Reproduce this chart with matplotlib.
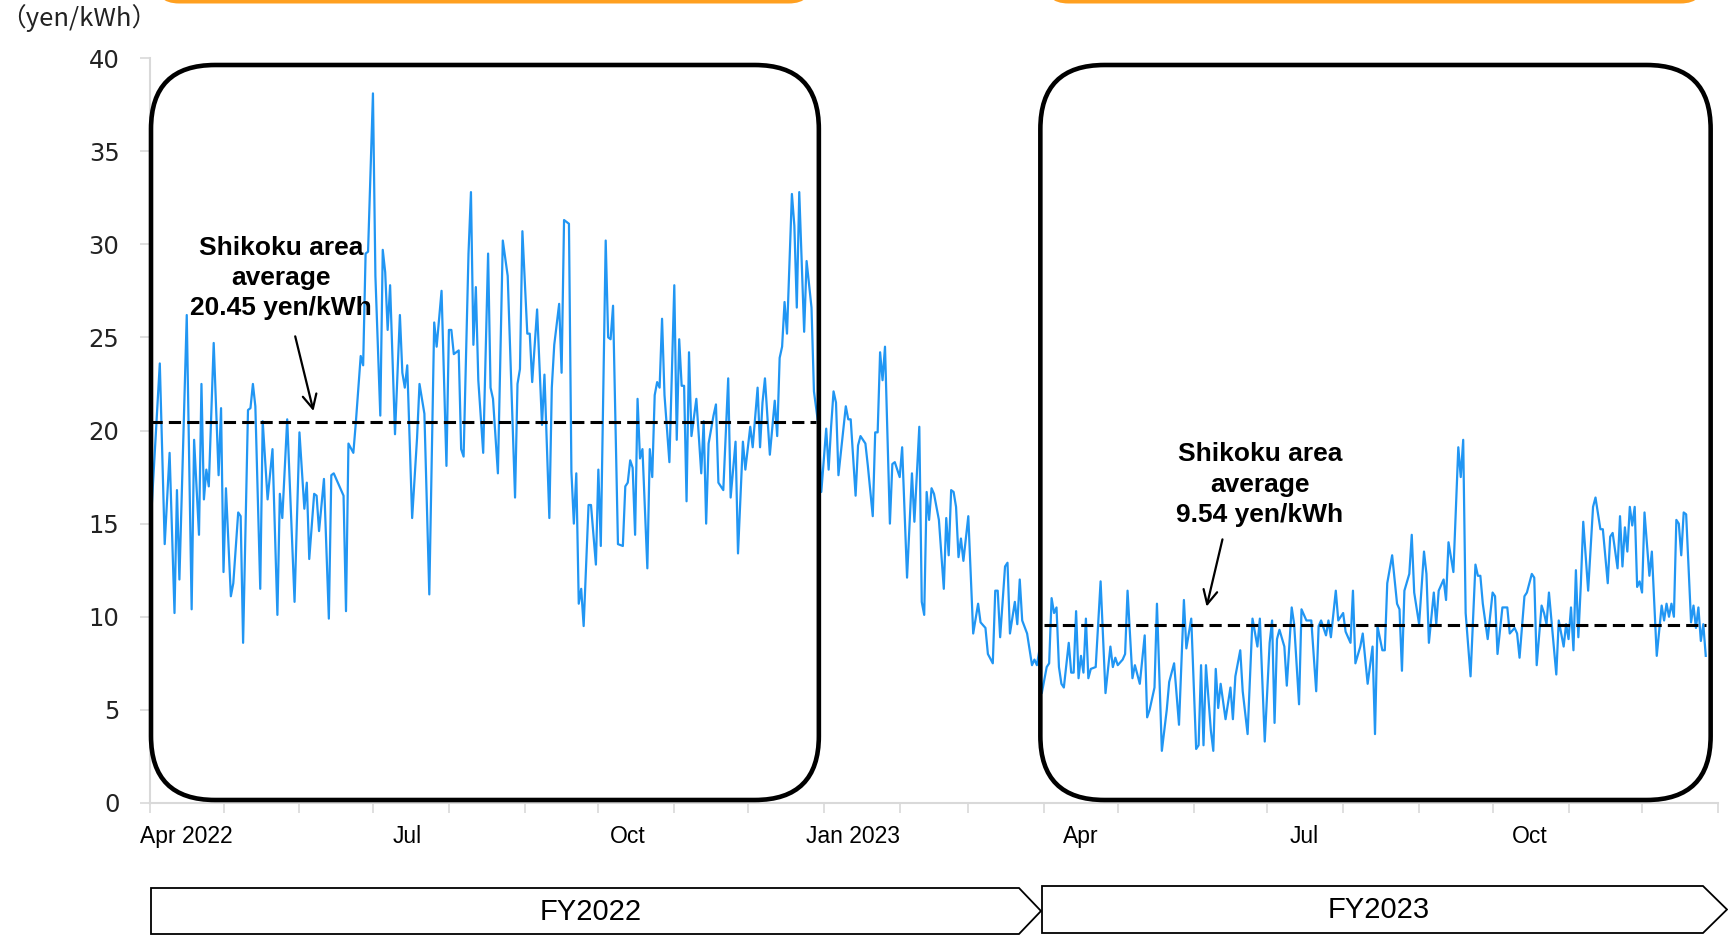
import matplotlib
matplotlib.use("Agg")
import matplotlib.pyplot as plt
import matplotlib.dates as mdates
from matplotlib.patches import FancyBboxPatch, Polygon
from matplotlib.transforms import IdentityTransform
import pandas as pd

# Daily spot price, Shikoku area (day offset from 2022-04-01, yen/kWh)
start = pd.Timestamp("2022-04-01")
day_offset = [
    0, 4, 6, 8, 10, 11, 12, 15, 17, 18, 20, 21, 22, 23, 24, 26, 28, 29, 30, 31,
    33, 34, 36, 37, 38, 40, 41, 42, 43, 45, 46, 48, 50, 52, 53, 54, 56, 59, 61, 63,
    64, 65, 67, 68, 69, 71, 73, 74, 75, 79, 80, 81, 83, 84, 86, 87, 88, 89, 91, 92,
    94, 95, 96, 97, 98, 100, 102, 103, 104, 105, 107, 109, 110, 112, 114, 116, 117, 119, 121, 122,
    123, 124, 126, 127, 128, 130, 131, 132, 133, 134, 136, 138, 139, 140, 142, 144, 146, 149, 150, 151,
    152, 154, 155, 156, 158, 160, 161, 163, 164, 165, 167, 168, 169, 171, 172, 173, 174, 175, 176, 177,
    179, 180, 182, 183, 184, 186, 187, 188, 189, 191, 193, 194, 195, 196, 197, 198, 199, 200, 201, 203,
    204, 205, 206, 207, 208, 209, 210, 212, 214, 215, 216, 217, 218, 219, 220, 221, 223, 225, 226, 227,
    228, 230, 231, 232, 233, 234, 236, 237, 239, 240, 242, 243, 245, 246, 248, 249, 250, 251, 253, 255,
    256, 257, 258, 259, 260, 262, 263, 264, 265, 267, 268, 270, 271, 273, 274, 276, 277, 278, 279, 280,
    281, 283, 284, 285, 286, 288, 289, 290, 292, 293, 295, 296, 297, 298, 299, 300, 302, 303, 304, 306,
    307, 309, 311, 312, 314, 315, 316, 317, 318, 319, 320, 322, 324, 325, 326, 327, 328, 329, 330, 331,
    332, 334, 336, 338, 339, 341, 342, 344, 345, 346, 347, 349, 350, 351, 353, 354, 355, 356, 358, 360,
    361, 362, 363, 364, 366, 367, 368, 369, 370, 371, 372, 373, 375, 376, 377, 378, 379, 380, 381, 382,
    383, 384, 386, 388, 390, 392, 393, 394, 395, 397, 398, 399, 401, 402, 404, 406, 407, 408, 410, 411,
    413, 415, 416, 418, 420, 422, 423, 425, 427, 428, 429, 430, 431, 433, 434, 435, 436, 437, 439, 441,
    442, 443, 445, 446, 448, 450, 452, 453, 455, 457, 458, 459, 460, 461, 463, 464, 466, 467, 469, 470,
    472, 474, 476, 477, 478, 480, 481, 482, 484, 485, 487, 488, 490, 491, 492, 494, 495, 497, 499, 500,
    501, 503, 504, 505, 507, 509, 510, 511, 512, 514, 515, 516, 518, 520, 521, 522, 524, 525, 526, 528,
    529, 530, 532, 534, 535, 536, 537, 539, 541, 542, 543, 544, 546, 548, 549, 550, 552, 554, 555, 557,
    558, 559, 561, 562, 564, 565, 566, 568, 569, 570, 571, 574, 575, 577, 578, 579, 580, 581, 582, 583,
    584, 585, 587, 589, 590, 592, 593, 595, 596, 597, 599, 600, 601, 602, 603, 604, 605, 606, 607, 608,
    609, 610, 612, 613, 615, 617, 618, 619, 620, 621, 622, 623, 624, 625, 626, 627, 629, 630, 631, 632,
    633, 634, 635,
]
price = [
    14.3, 23.6, 13.9, 18.8, 10.2, 16.8, 12.0, 26.2, 10.4, 19.5, 14.4, 22.5, 16.3, 17.9, 17.0, 24.7, 17.6, 21.2, 12.4, 16.9,
    11.1, 11.8, 15.6, 15.4, 8.6, 21.1, 21.2, 22.5, 21.3, 11.5, 20.5, 16.3, 19.0, 10.1, 16.6, 15.3, 20.6, 10.8, 19.9, 15.8,
    17.2, 13.1, 16.6, 16.5, 14.6, 17.4, 9.9, 17.6, 17.7, 16.5, 10.3, 19.3, 18.8, 20.4, 24.0, 23.5, 29.5, 29.6, 38.1, 28.3,
    20.8, 29.7, 28.5, 25.4, 27.8, 19.8, 26.2, 23.1, 22.3, 23.5, 15.3, 19.6, 22.5, 20.9, 11.2, 25.8, 24.5, 27.5, 18.1, 25.4,
    25.4, 24.1, 24.3, 19.0, 18.6, 29.5, 32.8, 24.6, 27.7, 22.7, 18.8, 29.5, 22.3, 21.7, 17.7, 30.2, 28.3, 16.4, 22.5, 23.3,
    30.7, 25.2, 25.2, 22.6, 26.5, 20.3, 23.0, 15.3, 22.3, 24.6, 26.8, 23.1, 31.3, 31.1, 17.8, 15.0, 17.7, 10.7, 11.5, 9.5,
    16.0, 16.0, 12.8, 17.9, 13.8, 30.2, 25.0, 24.9, 26.7, 13.9, 13.8, 17.0, 17.2, 18.4, 18.0, 14.4, 21.7, 18.5, 19.0, 12.6,
    19.0, 17.5, 21.9, 22.6, 22.3, 26.0, 21.9, 18.3, 27.8, 19.5, 24.9, 22.4, 22.4, 16.2, 24.2, 19.7, 21.7, 17.7, 20.5, 15.0,
    19.3, 20.8, 21.4, 17.2, 17.0, 16.8, 22.8, 16.4, 19.4, 13.4, 19.4, 17.9, 20.2, 19.1, 22.3, 19.1, 21.5, 22.8, 18.7, 21.6,
    19.7, 23.9, 24.5, 26.9, 25.2, 32.7, 31.0, 26.6, 32.8, 25.3, 29.1, 26.6, 22.1, 20.1, 16.7, 20.1, 17.9, 20.2, 22.1, 21.5,
    17.6, 20.1, 21.3, 20.6, 20.6, 16.5, 19.2, 19.7, 19.3, 18.1, 15.4, 19.9, 19.9, 24.2, 22.7, 24.5, 15.0, 18.2, 18.3, 17.5,
    19.1, 12.1, 17.7, 15.1, 20.2, 10.8, 10.1, 16.7, 15.2, 16.9, 16.6, 15.2, 11.5, 15.3, 13.3, 16.8, 16.7, 15.9, 13.2, 14.2,
    13.0, 15.4, 9.1, 10.7, 9.7, 9.4, 8.0, 7.5, 11.4, 11.4, 8.9, 12.7, 12.9, 9.1, 10.8, 9.6, 12.0, 9.8, 9.1, 7.4,
    7.7, 7.4, 8.2, 5.9, 7.3, 7.5, 11.0, 10.2, 10.5, 7.3, 6.4, 6.2, 8.6, 7.0, 7.0, 10.3, 6.7, 7.9, 7.0, 9.9,
    6.7, 7.2, 7.3, 11.9, 5.9, 8.4, 7.3, 7.8, 7.4, 7.7, 8.0, 11.4, 6.7, 7.4, 6.4, 9.0, 4.6, 5.0, 6.2, 10.7,
    2.8, 5.0, 6.5, 7.5, 4.2, 10.9, 8.3, 9.9, 2.9, 3.1, 7.4, 3.1, 7.4, 3.9, 2.8, 7.2, 5.1, 6.4, 4.5, 6.2,
    4.5, 6.8, 8.2, 6.0, 3.7, 9.9, 8.4, 9.9, 3.3, 8.6, 9.8, 4.3, 8.8, 9.3, 8.4, 6.3, 10.5, 9.6, 5.3, 10.4,
    9.8, 9.8, 6.0, 9.5, 9.8, 9.0, 9.8, 8.9, 11.4, 9.8, 10.2, 9.2, 8.6, 11.4, 7.5, 8.4, 9.1, 6.4, 8.4, 3.7,
    9.5, 8.2, 8.2, 11.8, 13.3, 10.7, 10.4, 7.1, 11.4, 12.3, 14.4, 11.3, 9.6, 13.5, 12.3, 8.6, 11.3, 9.6, 11.4, 12.0,
    10.9, 14.0, 12.4, 19.1, 17.5, 19.5, 10.2, 6.8, 12.8, 12.2, 12.2, 10.7, 8.8, 11.3, 11.1, 8.0, 10.5, 10.5, 9.1, 9.4,
    9.1, 7.8, 11.1, 11.3, 12.3, 12.1, 7.4, 10.6, 10.2, 9.6, 11.3, 6.9, 9.8, 8.4, 9.6, 8.8, 10.5, 8.2, 12.5, 8.9,
    11.7, 15.1, 11.4, 15.9, 16.4, 14.7, 14.7, 11.8, 14.3, 14.5, 12.6, 15.4, 12.7, 14.8, 13.5, 15.9, 14.9, 15.9, 11.6, 11.9,
    11.3, 15.6, 12.2, 13.5, 7.9, 10.6, 9.8, 10.7, 10.0, 10.7, 10.0, 15.2, 15.0, 13.3, 15.6, 15.5, 9.7, 10.6, 9.4, 10.5,
    8.7, 9.6, 7.9,
]

# Fiscal-year averages and the periods they cover
fy_names = ["FY2022", "FY2023"]
fy_avg = [20.45, 9.54]
avg_start = ["2022-04-01", "2023-04-01"]
avg_end = ["2022-12-29", "2023-12-27"]
frame_start = ["2022-04-01", "2023-03-30"]
frame_end = ["2022-12-30", "2023-12-29"]
note_text = ["Shikoku area\naverage\n20.45 yen/kWh", "Shikoku area\naverage\n9.54 yen/kWh"]

tick_dates = ["2022-04-16", "2022-07-15", "2022-10-13", "2023-01-13",
              "2023-04-16", "2023-07-16", "2023-10-16"]
tick_names = ["Apr 2022", "Jul", "Oct", "Jan 2023", "Apr", "Jul", "Oct"]

W, H = 1728, 936
fig = plt.figure(figsize=(W / 100, H / 100), dpi=100)
ax = fig.add_axes([150 / W, 1 - 803 / H, 1568 / W, 745 / H])

dates = start + pd.to_timedelta(day_offset, unit="D")
ax.plot(dates, price, color="#2196F3", lw=1.6, zorder=2)

for avg, a, b in zip(fy_avg, avg_start, avg_end):
    ax.plot([pd.Timestamp(a), pd.Timestamp(b)], [avg, avg], color="black",
            lw=2.2, dashes=(4, 2), zorder=3)

ax.set_xlim(start, pd.Timestamp("2024-01-01"))
ax.set_ylim(0, 40)
ax.set_yticks(range(0, 41, 5))

ax.xaxis.set_minor_locator(mdates.MonthLocator())
ax.set_xticks(pd.to_datetime(tick_dates))
ax.set_xticklabels(tick_names, family="Liberation Sans", fontsize=16.5)
ax.tick_params(axis="x", which="major", length=0, pad=16)
ax.tick_params(axis="x", which="minor", length=7, color="#d9d9d9", width=1.2)
ax.tick_params(axis="y", length=7, color="#d9d9d9", width=1.2, pad=15, labelsize=17.5)
for lbl in ax.get_yticklabels():
    lbl.set_family("DejaVu Sans")
    lbl.set_color("#222222")

for side in ["top", "right"]:
    ax.spines[side].set_visible(False)
for side in ["left", "bottom"]:
    ax.spines[side].set_color("#d9d9d9")
    ax.spines[side].set_linewidth(1.5)

fig.text(0, 1 - 18 / H, "（yen/kWh）", family=["Noto Sans CJK JP", "DejaVu Sans"],
         fontsize=18.5, va="center", ha="left", color="#222222")

# rounded frames around the Apr-Dec stretch of each fiscal year (drawn in pixels)
px = IdentityTransform()
fig.canvas.draw()
for a, b in zip(frame_start, frame_end):
    x0 = ax.transData.transform((mdates.date2num(pd.Timestamp(a)), 0))[0] + 1
    x1 = ax.transData.transform((mdates.date2num(pd.Timestamp(b)), 0))[0]
    y0, y1 = H - 800, H - 65
    frame = FancyBboxPatch((x0, y0), x1 - x0, y1 - y0,
                           boxstyle="round,pad=0,rounding_size=64",
                           fill=False, ec="black", lw=3.3, transform=px, zorder=4)
    fig.add_artist(frame)
    tab = FancyBboxPatch((x0 + 4, H - 3.5), x1 - x0 - 10, 60,
                         boxstyle="round,pad=0,rounding_size=24",
                         fc="#FFA020", ec="none", transform=px)
    fig.add_artist(tab)

# average annotations
ax.text(start + pd.Timedelta(days=53.5), 28.2, note_text[0], ha="center", va="center",
        family="Liberation Sans", weight="bold", fontsize=19, linespacing=1.32, zorder=5)
ax.annotate("", xy=(start + pd.Timedelta(days=67), 20.9),
            xytext=(start + pd.Timedelta(days=59), 25.2),
            arrowprops=dict(arrowstyle="->", color="black", lw=1.6, mutation_scale=25),
            zorder=5)
ax.text(start + pd.Timedelta(days=453), 17.1, note_text[1], ha="center", va="center",
        family="Liberation Sans", weight="bold", fontsize=19, linespacing=1.32, zorder=5)
ax.annotate("", xy=(start + pd.Timedelta(days=431), 10.4),
            xytext=(start + pd.Timedelta(days=438), 14.3),
            arrowprops=dict(arrowstyle="->", color="black", lw=1.6, mutation_scale=25),
            zorder=5)

# fiscal-year chevrons under the time axis
chevrons = [(151, 1019, 1041, 888, 934), (1042, 1703, 1727, 886, 933)]
for name, (l, r, tip, top, bot) in zip(fy_names, chevrons):
    mid = (top + bot) / 2
    pts = [(l, H - top), (r, H - top), (tip, H - mid), (r, H - bot), (l, H - bot)]
    fig.add_artist(Polygon(pts, closed=True, fc="white", ec="black", lw=1.3, transform=px))
    fig.text(((l + r) / 2 + 6) / W, 1 - (mid + 1) / H, name, ha="center", va="center",
             family="Liberation Sans", fontsize=21)

fig.savefig("out.png", dpi=100)
